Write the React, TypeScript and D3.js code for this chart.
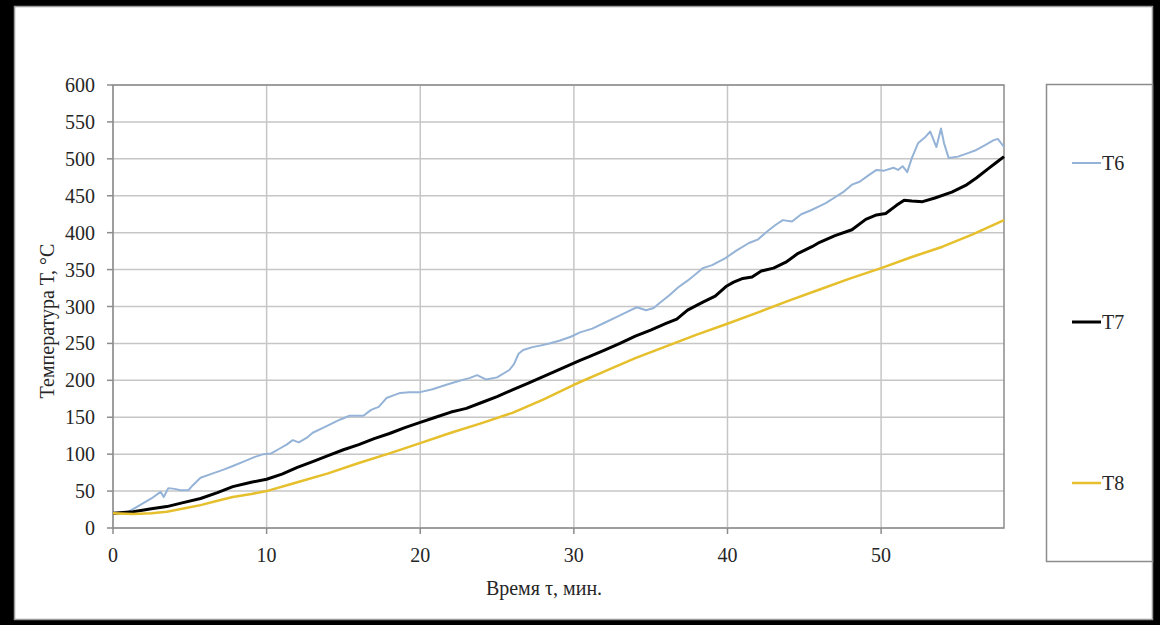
import React from "react";
import * as d3 from "d3";

const xTicks = [0, 10, 20, 30, 40, 50];
const yTicks = [0, 50, 100, 150, 200, 250, 300, 350, 400, 450, 500, 550, 600];
const seriesNames = ["T6", "T7", "T8"];
const seriesColors = ["#95b3d7", "#000000", "#e6bf2c"];
const seriesWidths = [2, 3, 2.5];

const t6: [number, number][] = [
  [0, 20], [0.7, 20], [1, 22], [1.5, 28], [2, 34], [2.5, 40], [3.1, 49], [3.3, 42], [3.6, 54], [4, 53],
  [4.4, 51], [4.9, 51], [5.2, 58], [5.7, 68], [6.5, 74], [7.2, 79], [7.8, 84], [8.5, 90], [9.2, 96], [9.8, 100],
  [10.3, 101], [10.8, 107], [11.3, 113], [11.7, 119], [12.1, 116], [12.6, 122], [13, 129], [13.6, 135], [14.2, 141], [14.8, 147],
  [15.4, 152], [16.3, 152], [16.8, 160], [17.3, 164], [17.8, 176], [18.3, 180], [18.7, 183], [19.3, 184], [20, 184], [20.8, 188],
  [21.7, 194], [22.5, 199], [23.2, 203], [23.7, 207], [24.3, 201], [25, 204], [25.8, 214], [26.1, 222], [26.4, 236], [26.7, 241],
  [27.3, 245], [27.8, 247], [28.4, 250], [29.1, 254], [29.8, 259], [30.4, 265], [31.2, 270], [32, 278], [32.8, 286], [33.5, 293],
  [34.1, 299], [34.7, 295], [35.2, 298], [35.6, 305], [36.2, 315], [36.8, 326], [37.4, 335], [38, 345], [38.4, 352], [39, 356],
  [39.9, 366], [40.6, 376], [41.4, 386], [42, 391], [42.6, 402], [43.1, 410], [43.6, 417], [44.2, 415], [44.8, 425], [45.4, 430],
  [46, 436], [46.4, 440], [47, 448], [47.6, 456], [48.1, 465], [48.6, 469], [49.2, 478], [49.7, 485], [50.2, 484], [50.8, 488],
  [51.1, 485], [51.4, 490], [51.7, 482], [52, 501], [52.4, 521], [52.9, 530], [53.2, 537], [53.6, 516], [53.9, 541], [54.1, 521],
  [54.4, 501], [55, 503], [55.7, 508], [56.2, 512], [56.8, 519], [57.3, 525], [57.6, 527], [58, 516],
];

const t7: [number, number][] = [
  [0, 20], [1.3, 22], [2.5, 26], [3.5, 29], [4.5, 34], [5.7, 40], [6.8, 48], [7.8, 56], [9, 62], [10, 66],
  [11, 73], [12, 82], [13, 90], [14, 98], [15, 106], [16, 113], [17, 121], [18, 128], [19, 136], [20, 143],
  [21, 150], [22, 157], [22.6, 160], [23, 162], [24, 170], [25, 178], [26, 187], [27, 196], [28, 205], [29, 214],
  [30.4, 227], [31, 232], [32, 241], [33, 250], [34, 260], [35, 268], [36, 277], [36.7, 283], [37.4, 295], [38.4, 306],
  [39.2, 314], [39.9, 327], [40.4, 333], [41, 338], [41.6, 340], [42.2, 348], [43, 352], [43.8, 360], [44.6, 372], [45.5, 381],
  [46, 387], [47, 396], [48.1, 404], [49, 418], [49.7, 424], [50.3, 426], [51, 437], [51.5, 444], [52, 443], [52.7, 442],
  [53.5, 447], [54.6, 455], [55.5, 464], [56.2, 474], [57, 487], [57.5, 495], [58, 503],
];

const t8: [number, number][] = [
  [0, 20], [1.3, 19], [2.5, 20], [3.5, 22], [4.5, 26], [5.7, 31], [6.8, 37], [7.8, 42], [9, 46], [10, 50],
  [12, 62], [14, 74], [16, 88], [18, 101], [20, 115], [22, 129], [24, 142], [26, 156], [28, 174], [30, 194],
  [32, 212], [34, 230], [36, 246], [38, 262], [39.9, 276], [42, 292], [44, 308], [46, 323], [48, 338], [50, 352],
  [52, 367], [54, 381], [56, 398], [58, 417],
];

const seriesData = [t6, t7, t8];

const W = 1160;
const H = 625;
const plot = { left: 113, right: 1004, top: 85, bottom: 528 };
const font = "Liberation Serif, Times New Roman, serif";
const textColor = "#262626";
const fs = 20;

export default function App() {
  const x = d3.scaleLinear().domain([0, 58]).range([plot.left, plot.right]);
  const y = d3.scaleLinear().domain([0, 600]).range([plot.bottom, plot.top]);
  const line = d3
    .line<[number, number]>()
    .x((d) => x(d[0]))
    .y((d) => y(d[1]))
    .curve(d3.curveLinear);

  const legendY = [163, 322, 483];

  return (
    <svg
      width={W}
      height={H}
      style={{ position: "absolute", left: 0, top: 0, display: "block" }}
    >
      <rect x={0} y={0} width={W} height={H} fill="#000" />
      <rect x={14.5} y={6.5} width={1138} height={613} fill="#fff" stroke="#9a9a9a" strokeWidth={1.5} />

      {/* grid */}
      {yTicks.map((t) => (
        <line key={"gy" + t} x1={plot.left} x2={plot.right} y1={y(t)} y2={y(t)} stroke="#c6c6c6" strokeWidth={1.5} />
      ))}
      {xTicks.map((t) => (
        <line key={"gx" + t} x1={x(t)} x2={x(t)} y1={plot.top} y2={plot.bottom} stroke="#c6c6c6" strokeWidth={1.5} />
      ))}
      <rect
        x={plot.left}
        y={plot.top}
        width={plot.right - plot.left}
        height={plot.bottom - plot.top}
        fill="none"
        stroke="#8c8c8c"
        strokeWidth={1.5}
      />

      {/* ticks */}
      {yTicks.map((t) => (
        <g key={"ty" + t}>
          <line x1={plot.left - 6} x2={plot.left} y1={y(t)} y2={y(t)} stroke="#8c8c8c" strokeWidth={1.5} />
          <text x={95} y={y(t)} dy="0.35em" textAnchor="end" fontFamily={font} fontSize={fs} fill={textColor}>
            {t}
          </text>
        </g>
      ))}
      {xTicks.map((t) => (
        <g key={"tx" + t}>
          <line x1={x(t)} x2={x(t)} y1={plot.bottom} y2={plot.bottom + 6} stroke="#8c8c8c" strokeWidth={1.5} />
          <text x={x(t)} y={562} textAnchor="middle" fontFamily={font} fontSize={fs} fill={textColor}>
            {t}
          </text>
        </g>
      ))}

      {/* series */}
      {seriesData.map((d, i) => (
        <path
          key={seriesNames[i]}
          d={line(d) || ""}
          fill="none"
          stroke={seriesColors[i]}
          strokeWidth={seriesWidths[i]}
          strokeLinejoin="round"
        />
      ))}

      {/* axis titles */}
      <text x={544} y={595} textAnchor="middle" fontFamily={font} fontSize={fs} fill={textColor}>
        Время τ, мин.
      </text>
      <text
        transform="translate(54,321) rotate(-90)"
        textAnchor="middle"
        fontFamily={font}
        fontSize={fs}
        fill={textColor}
      >
        Температура Т, °С
      </text>

      {/* legend */}
      <rect x={1046.5} y={84.5} width={106} height={477} fill="#fff" stroke="#8c8c8c" strokeWidth={1.5} />
      {seriesNames.map((n, i) => (
        <g key={"lg" + n}>
          <line x1={1072} x2={1101} y1={legendY[i]} y2={legendY[i]} stroke={seriesColors[i]} strokeWidth={seriesWidths[i]} />
          <text x={1102} y={legendY[i]} dy="0.35em" fontFamily={font} fontSize={fs} fill={textColor}>
            {n}
          </text>
        </g>
      ))}
    </svg>
  );
}
